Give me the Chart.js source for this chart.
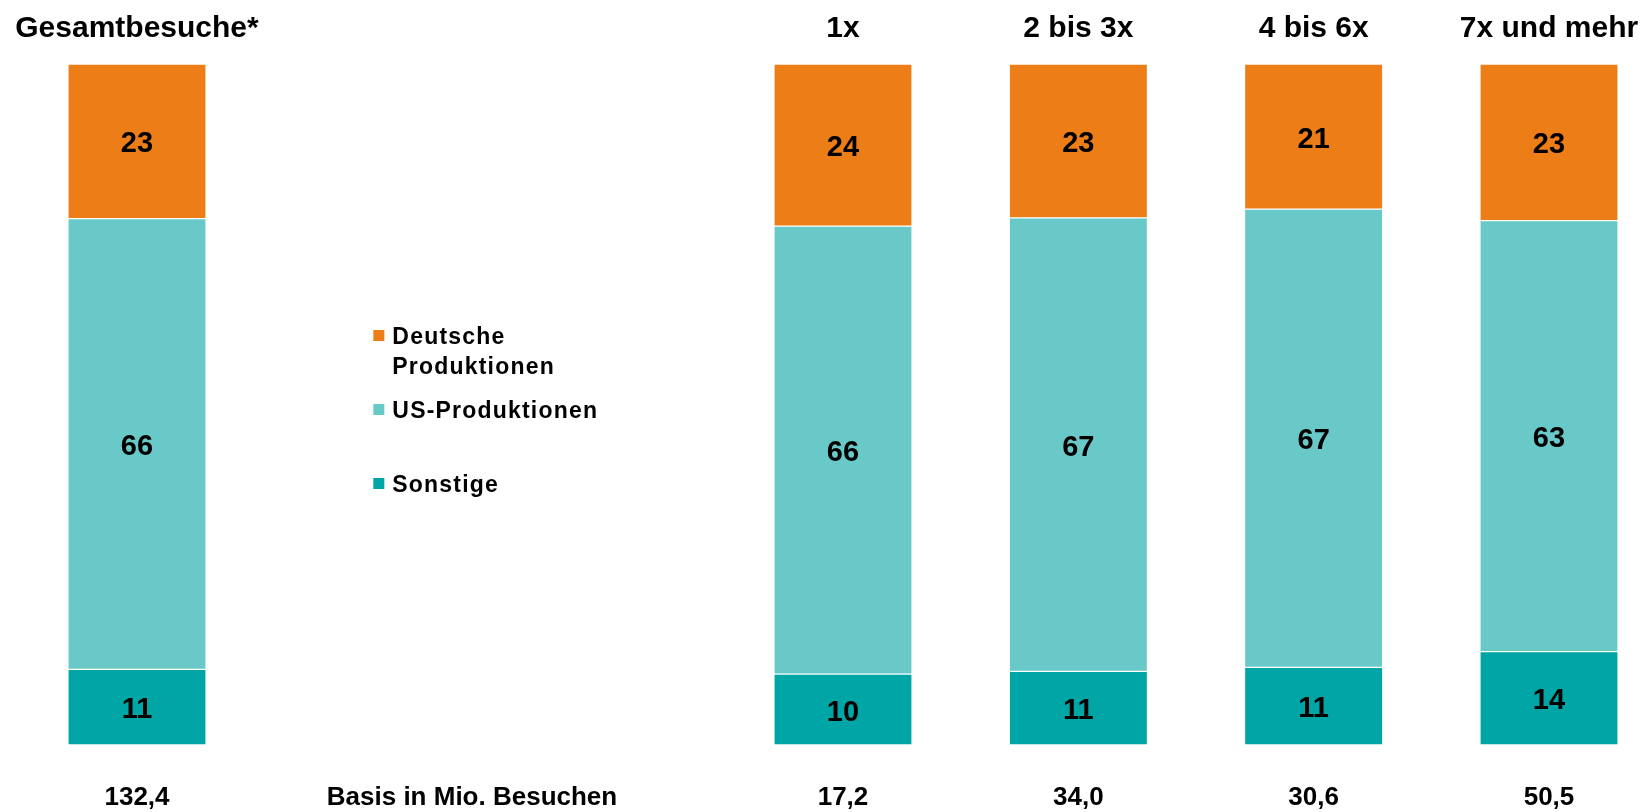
<!DOCTYPE html>
<html>
<head>
<meta charset="utf-8">
<script src="https://cdn.jsdelivr.net/npm/chart.js@4/dist/chart.umd.min.js"></script>
<style>
  html, body { margin: 0; padding: 0; background: #fff; }
  #wrap { width: 1649px; height: 812px; position: relative; }
</style>
</head>
<body>
<div id="wrap"><canvas id="chart"></canvas></div>
<script>
// categories (two empty slots hold the legend / basis caption)
var categories = ['Gesamtbesuche*', '', '', '1x', '2 bis 3x', '4 bis 6x', '7x und mehr'];
var basisLabels = ['132,4', '', '', '17,2', '34,0', '30,6', '50,5'];
var basisCaption = 'Basis in Mio. Besuchen';

// shares in percent (labels show them rounded)
var deutsche = [22.7, null, null, 23.8, 22.6, 21.3, 23.0];
var usProd   = [66.2, null, null, 65.8, 66.6, 67.3, 63.3];
var sonstige = [11.1, null, null, 10.4, 10.8, 11.4, 13.7];

var FONT = "'Liberation Sans', Arial, sans-serif";
var ORANGE = '#EC7D17';
var LIGHT = '#69C9C9';
var DARK = '#00A5A5';

// values written into the bar segments
var valueLabels = {
    id: 'valueLabels',
    afterDatasetsDraw: function(chart) {
        var ctx = chart.ctx;
        ctx.save();
        ctx.font = 'bold 29px ' + FONT;
        ctx.fillStyle = '#000';
        ctx.textAlign = 'center';
        ctx.textBaseline = 'middle';
        chart.data.datasets.forEach(function(ds, i) {
            chart.getDatasetMeta(i).data.forEach(function(bar, j) {
                var v = ds.data[j];
                if (v == null) return;
                ctx.fillText(String(Math.round(v)), bar.x, (bar.y + bar.base) / 2 + 3);
            });
        });
        ctx.restore();
    }
};

// legend in the empty middle area + basis caption
var sideLegend = {
    id: 'sideLegend',
    afterDraw: function(chart) {
        var ctx = chart.ctx;
        var x = chart.scales.x.getPixelForValue(1);
        var ds = chart.data.datasets;
        // top-to-bottom order like the stack
        var rows = [
            { ds: ds[2], lines: ['Deutsche', 'Produktionen'], y: 337 },
            { ds: ds[1], lines: ['US-Produktionen'], y: 411 },
            { ds: ds[0], lines: ['Sonstige'], y: 485 }
        ];
        ctx.save();
        ctx.font = 'bold 23px ' + FONT;
        if ('letterSpacing' in ctx) ctx.letterSpacing = '1.2px';
        ctx.textAlign = 'left';
        ctx.textBaseline = 'middle';
        rows.forEach(function(r) {
            ctx.fillStyle = r.ds.backgroundColor;
            ctx.fillRect(x + 1, r.y - 7, 11, 11);
            ctx.fillStyle = '#000';
            r.lines.forEach(function(t, k) {
                ctx.fillText(t, x + 20, r.y + 1 + k * 30);
            });
        });
        ctx.restore();

        var x2 = chart.scales.x2;
        var cx = (x2.getPixelForValue(1) + x2.getPixelForValue(2)) / 2 - 18;
        ctx.save();
        ctx.font = 'bold 26px ' + FONT;
        ctx.fillStyle = '#000';
        ctx.textAlign = 'center';
        ctx.textBaseline = 'middle';
        ctx.fillText(basisCaption, cx, x2.top + x2.options.ticks.padding + 14);
        ctx.restore();
    }
};

// fixed axis height, no extra side padding for the edge labels
function fitAxis(h) {
    return function(s) {
        s.height = h;
        s.paddingLeft = 0;
        s.paddingRight = 0;
    };
}

var ctx = document.getElementById('chart').getContext('2d');
var segBorder = { top: 1, bottom: 1, left: 0, right: 0 };
var myChart = new Chart(ctx, {
    type: 'bar',
    data: {
        labels: categories,
        datasets: [
            { label: 'Sonstige', data: sonstige, backgroundColor: DARK },
            { label: 'US-Produktionen', data: usProd, backgroundColor: LIGHT },
            { label: 'Deutsche Produktionen', data: deutsche, backgroundColor: ORANGE }
        ].map(function(d) {
            d.borderColor = '#fff';
            d.borderWidth = segBorder;
            d.borderSkipped = false;
            d.barThickness = 137;
            d.clip = false;
            return d;
        })
    },
    options: {
        responsive: true,
        maintainAspectRatio: false,
        animation: false,
        layout: { padding: { top: 0, bottom: 0, left: 137, right: 100 } },
        plugins: {
            legend: { display: false },
            tooltip: { enabled: false }
        },
        scales: {
            x: {
                position: 'top',
                stacked: true,
                offset: false,
                grid: { display: false, drawTicks: false },
                border: { display: false },
                afterFit: fitAxis(64),
                ticks: {
                    color: '#000',
                    font: { family: FONT, size: 30, weight: 'bold' },
                    padding: 17,
                    maxRotation: 0,
                    autoSkip: false
                }
            },
            x2: {
                type: 'category',
                labels: basisLabels,
                position: 'bottom',
                offset: false,
                grid: { display: false, drawTicks: false },
                border: { display: false },
                afterFit: fitAxis(67),
                ticks: {
                    color: '#000',
                    font: { family: FONT, size: 26, weight: 'bold', lineHeight: 1.1 },
                    padding: 39,
                    maxRotation: 0,
                    autoSkip: false
                }
            },
            y: {
                display: false,
                stacked: true,
                min: 0,
                max: 100
            }
        }
    },
    plugins: [valueLabels, sideLegend]
});
</script>
</body>
</html>
